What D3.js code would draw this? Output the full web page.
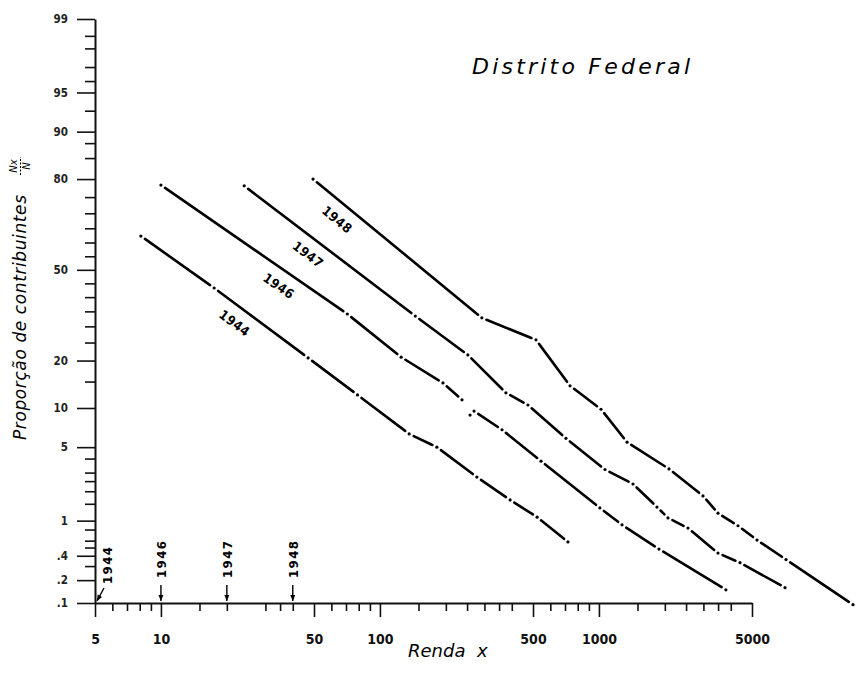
<!DOCTYPE html>
<html>
<head>
<meta charset="utf-8">
<script src="https://cdn.jsdelivr.net/npm/d3@7"></script>
<style>
  body { margin: 0; background: #fff; }
  svg { display: block; }
</style>
</head>
<body>
<svg id="chart" width="858" height="686"></svg>
<script>
// anos e curvas (renda x em milhares de cruzeiros, proporção Nx/N em %)
const anos = ["1944", "1946", "1947", "1948"];
const renda1944 = [8.1, 17.5, 47, 79, 136, 182, 277, 393, 522, 722];
const prop1944  = [62.3, 43.3, 20.7, 12.3, 6.4, 5.0, 2.73, 1.64, 1.09, 0.58];
const renda1946 = [10, 71, 125, 194, 237, null, 258, 269, 361, 544, 1010, 1275, 1880, 3800];
const prop1946  = [78.4, 34.1, 20.9, 14.7, 11.4, null, 8.9, 9.5, 6.9, 3.8, 1.36, 0.90, 0.48, 0.15];
const renda1947 = [24, 145, 252, 376, 474, 707, 1066, 1431, 1841, 2067, 2551, 3497, 4408, 7074];
const prop1947  = [78.2, 33.4, 21.5, 12.7, 10.5, 5.9, 3.2, 2.35, 1.39, 1.07, 0.83, 0.43, 0.33, 0.16];
const renda1948 = [49.5, 292, 516, 738, 1022, 1344, 2089, 2987, 3497, 4316, 5270, 7150, 14460];
const prop1948  = [80.0, 32.8, 25.8, 14.1, 9.8, 5.5, 3.24, 1.80, 1.2, 0.88, 0.61, 0.36, 0.095];
// onde fica o rótulo de cada curva (renda)
const rotuloRenda = [24, 38, 52, 71];
// limite de isenção marcado no eixo x
const limiteRenda = [5, 10, 20, 40];

const yTicksMajor = [99, 95, 90, 80, 50, 20, 10, 5, 1, 0.4, 0.2, 0.1];
const yTickLabels = ["99", "95", "90", "80", "50", "20", "10", "5", "1", ".4", ".2", ".1"];
const yTicksMinor = [98.5, 98, 97, 96, 93, 88, 85, 75, 70, 65, 60, 55, 45, 40, 35, 30, 25, 15, 4, 3, 2.5, 2, 1.5, 0.8, 0.6, 0.5, 0.3];
const xTicksMajor = [5, 10, 50, 100, 500, 1000, 5000];
const xTicksMinor = [6, 7, 8, 9, 15, 20, 30, 35, 40, 60, 70, 80, 90, 150, 200, 250, 300, 350, 400,
                     600, 700, 800, 900, 1500, 2000, 2500, 3000, 3500, 4000];

// inversa da normal (Acklam) -> escala de probabilidade
function probit(p){
    const a = [-3.969683028665376e+01, 2.209460984245205e+02, -2.759285104469687e+02, 1.383577518672690e+02, -3.066479806614716e+01, 2.506628277459239e+00],
          b = [-5.447609879822406e+01, 1.615858368580409e+02, -1.556989798598866e+02, 6.680131188771972e+01, -1.328068155288572e+01],
          c = [-7.784894002430293e-03, -3.223964580411365e-01, -2.400758277161838e+00, -2.549732539343734e+00, 4.374664141464968e+00, 2.938163982698783e+00],
          d = [7.784695709041462e-03, 3.224671290700398e-01, 2.445134137142996e+00, 3.754408661907416e+00];
    const pl = 0.02425;
    let q, r;
    if (p < pl) {
        q = Math.sqrt(-2 * Math.log(p));
        return (((((c[0]*q+c[1])*q+c[2])*q+c[3])*q+c[4])*q+c[5]) / ((((d[0]*q+d[1])*q+d[2])*q+d[3])*q+1);
    }
    if (p > 1 - pl) {
        q = Math.sqrt(-2 * Math.log(1 - p));
        return -(((((c[0]*q+c[1])*q+c[2])*q+c[3])*q+c[4])*q+c[5]) / ((((d[0]*q+d[1])*q+d[2])*q+d[3])*q+1);
    }
    q = p - 0.5; r = q * q;
    return (((((a[0]*r+a[1])*r+a[2])*r+a[3])*r+a[4])*r+a[5])*q / (((((b[0]*r+b[1])*r+b[2])*r+b[3])*r+b[4])*r+1);
}

const svg = d3.select("#chart");
const x = d3.scaleLog().domain([5, 5000]).range([95, 752]);
const y = d3.scaleLinear().domain([probit(0.001), probit(0.99)]).range([603, 19]);
const yp = p => y(probit(p / 100));
const fonte = "'DejaVu Sans Condensed', 'DejaVu Sans', sans-serif";

// eixo y (escala de probabilidade)
const gy = svg.append("g").attr("transform", "translate(95,0)");
gy.append("g")
    .call(d3.axisLeft(y).tickValues(yTicksMinor.map(p => probit(p / 100))).tickSize(10).tickFormat(""))
    .call(g => g.select(".domain").remove());
gy.append("g")
    .call(d3.axisLeft(y).tickValues(yTicksMajor.map(p => probit(p / 100))).tickSize(18).tickSizeOuter(0)
        .tickPadding(9).tickFormat((d, i) => yTickLabels[i]));
gy.selectAll("line").attr("stroke", "#111").attr("stroke-width", 1.6);
gy.selectAll(".domain").attr("stroke", "#111").attr("stroke-width", 2);
gy.selectAll(".tick text")
    .style("font-family", fonte).style("font-stretch", "condensed")
    .style("font-weight", "bold").style("font-size", "11.5px").attr("fill", "#222");
gy.selectAll(".tick text").filter((d, i) => i === 0).style("font-weight", "900").style("font-size", "12.5px");

// eixo x (log)
const gx = svg.append("g").attr("transform", "translate(0," + y(probit(0.001)) + ")");
gx.append("g")
    .call(d3.axisBottom(x).tickValues(xTicksMinor).tickSize(8).tickFormat(""))
    .call(g => g.select(".domain").remove());
gx.append("g")
    .call(d3.axisBottom(x).tickValues(xTicksMajor).tickSize(14).tickSizeOuter(0)
        .tickPadding(17).tickFormat(d3.format("d")));
gx.selectAll("line").attr("stroke", "#111").attr("stroke-width", 1.6);
gx.selectAll(".domain").attr("stroke", "#111").attr("stroke-width", 2.2);
gx.selectAll(".tick text")
    .style("font-family", fonte).style("font-stretch", "condensed")
    .style("font-weight", "bold").style("font-size", "14px").attr("fill", "#111");

// curvas: traço-ponto, com ponto em cada observação
const series = [[renda1944, prop1944], [renda1946, prop1946], [renda1947, prop1947], [renda1948, prop1948]];
const gap = 5;
const gl = svg.append("g");
series.forEach(([rs, ps], k) => {
    const pts = rs.map((r, i) => r == null ? null : [x(r), yp(ps[i])]);
    for (let i = 0; i < pts.length - 1; i++) {
        const a = pts[i], b = pts[i + 1];
        if (!a || !b) continue;
        const dx = b[0] - a[0], dy = b[1] - a[1], L = Math.hypot(dx, dy);
        if (L < 2 * gap + 1) continue;
        const ux = dx / L, uy = dy / L;
        gl.append("line")
            .attr("x1", a[0] + ux * gap).attr("y1", a[1] + uy * gap)
            .attr("x2", b[0] - ux * gap).attr("y2", b[1] - uy * gap)
            .attr("stroke", "#000").attr("stroke-width", 2.6).attr("stroke-linecap", "round");
    }
    gl.selectAll(null).data(pts.filter(p => p)).enter()
        .append("circle")
        .attr("cx", d => d[0]).attr("cy", d => d[1]).attr("r", 1.6).attr("fill", "#000");

    // rótulo ao longo da curva
    const rr = rotuloRenda[k];
    let j = 0;
    while (j < rs.length - 1 && !(rs[j] <= rr && rs[j + 1] >= rr)) j++;
    const a = pts[j], b = pts[j + 1];
    const t = (Math.log(rr) - Math.log(rs[j])) / (Math.log(rs[j + 1]) - Math.log(rs[j]));
    const px = a[0] + t * (b[0] - a[0]), py = a[1] + t * (b[1] - a[1]);
    const ang = Math.atan2(b[1] - a[1], b[0] - a[0]);
    const ox = px - Math.sin(ang) * 16, oy = py + Math.cos(ang) * 16;
    gl.append("text")
        .attr("transform", `translate(${ox},${oy}) rotate(${ang * 180 / Math.PI})`)
        .attr("text-anchor", "middle").attr("dy", "0.35em")
        .style("font-family", fonte)
        .style("font-stretch", "condensed").style("font-weight", "bold").style("font-size", "13px")
        .style("letter-spacing", "0.5px")
        .text(anos[k]);
});

// setas dos limites de isenção
const gm = svg.append("g");
const y0 = y(probit(0.001));
limiteRenda.forEach((r, k) => {
    const xx = x(r), first = k === 0;
    const tx = first ? xx + 12 : xx;
    gm.append("text")
        .attr("transform", `translate(${tx + 5},${first ? 584 : 578}) rotate(-90)`)
        .attr("textLength", 37).attr("lengthAdjust", "spacing")
        .style("font-family", fonte)
        .style("font-stretch", "condensed").style("font-weight", "bold").style("font-size", "13px")
        .text(anos[k]);
    const x1 = first ? xx + 9 : xx, y1 = first ? 588 : 585;
    const x2 = first ? xx + 2 : xx, y2 = y0 - 2;
    gm.append("line").attr("x1", x1).attr("y1", y1).attr("x2", x2).attr("y2", y2)
        .attr("stroke", "#000").attr("stroke-width", 1.4);
    const ang = Math.atan2(y2 - y1, x2 - x1);
    const h = 6, w = 2.5;
    const bx = x2 - Math.cos(ang) * h, by = y2 - Math.sin(ang) * h;
    gm.append("path")
        .attr("d", `M${x2},${y2}L${bx - Math.sin(ang) * w},${by + Math.cos(ang) * w}L${bx + Math.sin(ang) * w},${by - Math.cos(ang) * w}Z`)
        .attr("fill", "#000");
});

// títulos
svg.append("text")
    .attr("x", 472).attr("y", 74)
    .attr("textLength", 218).attr("lengthAdjust", "spacing")
    .style("font-family", "'DejaVu Sans', sans-serif").style("font-style", "italic")
    .style("font-size", "22px")
    .text("Distrito Federal");

svg.append("text")
    .attr("x", 408).attr("y", 657)
    .style("font-family", "'DejaVu Sans', sans-serif").style("font-style", "italic")
    .style("font-size", "18px").attr("xml:space", "preserve")
    .text("Renda  x");

const gt = svg.append("g").attr("transform", "translate(26,440) rotate(-90)");
gt.append("text")
    .attr("x", 0).attr("y", 0)
    .attr("textLength", 245).attr("lengthAdjust", "spacing")
    .style("font-family", "'DejaVu Sans', sans-serif").style("font-style", "italic")
    .style("font-size", "17px")
    .text("Proporção de contribuintes");
gt.append("text").attr("x", 274).attr("y", -9).attr("text-anchor", "middle")
    .style("font-family", "'DejaVu Sans', sans-serif").style("font-style", "italic").style("font-size", "10px")
    .text("Nx");
gt.append("line").attr("x1", 265).attr("x2", 283).attr("y1", -5.5).attr("y2", -5.5)
    .attr("stroke", "#000").attr("stroke-width", 1).attr("stroke-dasharray", "2,1.5");
gt.append("text").attr("x", 274).attr("y", 4).attr("text-anchor", "middle")
    .style("font-family", "'DejaVu Sans', sans-serif").style("font-style", "italic").style("font-size", "10px")
    .text("N");
</script>
</body>
</html>
